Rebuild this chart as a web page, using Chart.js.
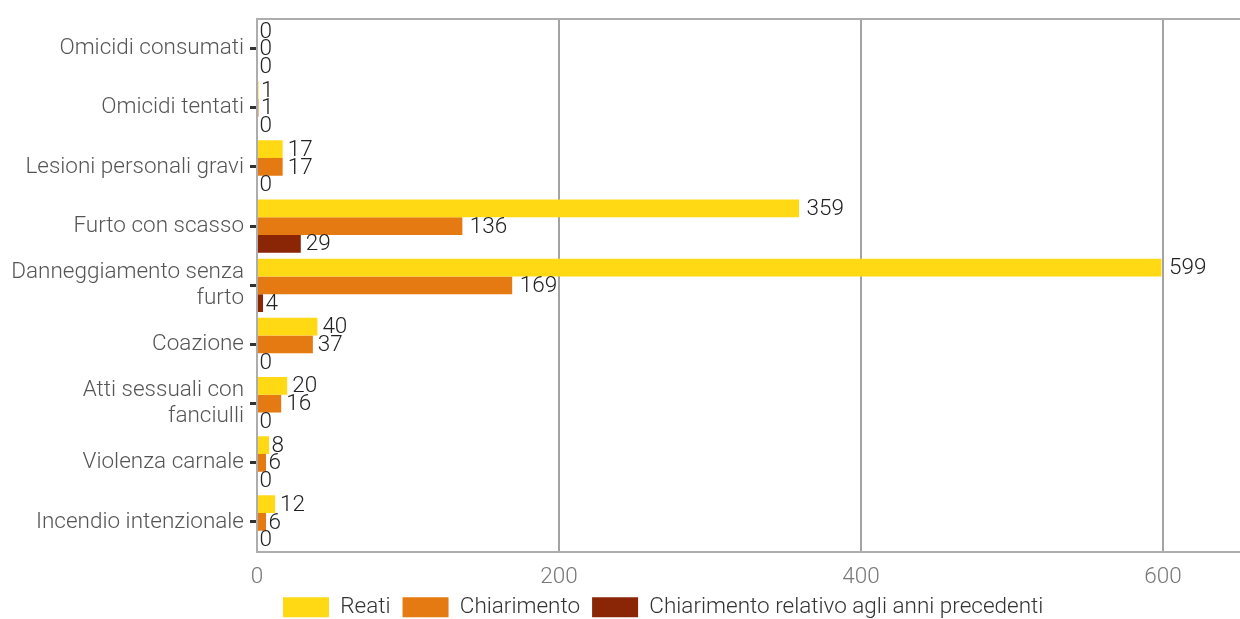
<!DOCTYPE html>
<html>
<head>
<meta charset="utf-8">
<script src="https://cdn.jsdelivr.net/npm/chart.js@4"></script>
<style>
  html, body { margin: 0; padding: 0; background: #fff; }
  .chart-wrapper { width: 1240px; height: 619px; }
</style>
</head>
<body>
<div class="chart-wrapper">
  <canvas id="myChart"></canvas>
</div>
<script>
const categories = [
  'Omicidi consumati',
  'Omicidi tentati',
  'Lesioni personali gravi',
  'Furto con scasso',
  ['Danneggiamento senza', 'furto'],
  'Coazione',
  ['Atti sessuali con', 'fanciulli'],
  'Violenza carnale',
  'Incendio intenzionale'
]
const reati = [0, 1, 17, 359, 599, 40, 20, 8, 12]
const chiarimento = [0, 1, 17, 136, 169, 37, 16, 6, 6]
const chiarimentoPrecedenti = [0, 0, 0, 29, 4, 0, 0, 0, 0]
const xTicks = [0, 200, 400, 600]

const FONT = 'Roboto'
const SIZE = 22.5

// value labels at the end of each bar, nudged by a fifth of their width
const valueLabels = {
  id: 'valueLabels',
  afterDatasetsDraw (chart) {
    const { ctx } = chart
    ctx.save()
    ctx.font = `300 ${SIZE}px ${FONT}`
    ctx.fillStyle = '#222'
    ctx.textAlign = 'left'
    ctx.textBaseline = 'middle'
    chart.data.datasets.forEach((ds, i) => {
      chart.getDatasetMeta(i).data.forEach((bar, j) => {
        const txt = String(ds.data[j])
        const w = ctx.measureText(txt).width
        ctx.fillText(txt, bar.x + 0.2 * w, bar.y + 1)
      })
    })
    ctx.restore()
  }
}

// top line of the panel box
const panelTop = {
  id: 'panelTop',
  beforeDatasetsDraw (chart) {
    const { ctx, chartArea } = chart
    ctx.save()
    ctx.strokeStyle = '#adadad'
    ctx.lineWidth = 2
    ctx.beginPath()
    ctx.moveTo(chartArea.left, chartArea.top)
    ctx.lineTo(chartArea.right, chartArea.top)
    ctx.stroke()
    ctx.restore()
  }
}

// move the legend to where the original has it
const legendShift = {
  id: 'legendShift',
  afterLayout (chart) {
    const lg = chart.legend
    const pad = lg.options.labels.padding
    const startX = (lg.left + pad + lg.right - lg.lineWidths[0]) / 2
    const dx = 283 - startX
    lg.left += dx
    lg.right += dx
    const h = lg.bottom - lg.top
    lg.top = 584
    lg.bottom = lg.top + h
  }
}

const myChart = new Chart(document.getElementById('myChart'), {
  type: 'bar',
  data: {
    labels: categories,
    datasets: [
      { label: 'Reati', data: reati, backgroundColor: '#ffd914' },
      { label: 'Chiarimento', data: chiarimento, backgroundColor: '#e67a12' },
      { label: 'Chiarimento relativo agli anni precedenti', data: chiarimentoPrecedenti, backgroundColor: '#8a2506' }
    ]
  },
  options: {
    indexAxis: 'y',
    responsive: true,
    maintainAspectRatio: false,
    animation: false,
    categoryPercentage: 0.9,
    barPercentage: 1.0,
    layout: { padding: { top: 15, right: 0, bottom: -19, left: 0 } },
    scales: {
      x: {
        min: 0,
        max: 651,
        afterBuildTicks: axis => { axis.ticks = xTicks.map(v => ({ value: v })) },
        afterFit: axis => { axis.height = 42 },
        grid: {
          color: ctx => (ctx.tick && ctx.tick.value === 0) ? 'rgba(0,0,0,0)' : '#a3a3a3',
          lineWidth: 2,
          drawTicks: false
        },
        border: { display: true, color: '#adadad', width: 2 },
        ticks: {
          padding: 12,
          color: '#777',
          font: { family: FONT, size: SIZE, weight: '300' }
        }
      },
      y: {
        afterFit: axis => { axis.width = 257 },
        grid: {
          offset: false,
          drawOnChartArea: false,
          drawTicks: true,
          tickLength: 7,
          color: '#333',
          lineWidth: 3
        },
        border: { display: true, color: '#adadad', width: 2 },
        ticks: {
          padding: 6,
          color: '#555',
          autoSkip: false,
          font: { family: FONT, size: SIZE, weight: '300', lineHeight: 1.16 }
        }
      }
    },
    plugins: {
      legend: {
        position: 'bottom',
        labels: {
          boxWidth: 46,
          boxHeight: 20,
          padding: 12,
          color: '#333',
          font: { family: FONT, size: SIZE, weight: '300' }
        }
      },
      tooltip: { enabled: false }
    }
  },
  plugins: [valueLabels, panelTop, legendShift]
})
</script>
</body>
</html>
